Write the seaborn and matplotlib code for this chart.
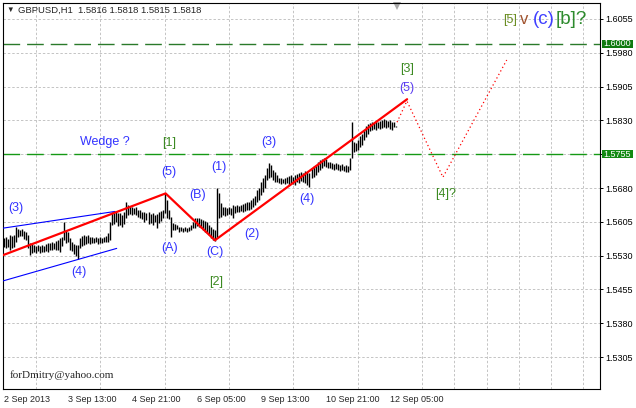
import numpy as np
import pandas as pd
import matplotlib
matplotlib.use("Agg")
import matplotlib.pyplot as plt
from matplotlib.patches import Rectangle
from matplotlib.transforms import blended_transform_factory
import seaborn as sns

# GBPUSD H1 bars (2 Sep 05:00 .. 12 Sep 08:00)
bar_high = [
    1.5569, 1.5571, 1.5567, 1.5576, 1.5573, 1.5576, 1.5593, 1.5589, 1.5587, 1.5589,
    1.5585, 1.5582, 1.5576, 1.5558, 1.5556, 1.5553, 1.5551, 1.5553, 1.5551, 1.5553,
    1.5551, 1.5556, 1.5558, 1.5558, 1.5560, 1.5558, 1.5562, 1.5565, 1.5569, 1.5571,
    1.5604, 1.5587, 1.5582, 1.5569, 1.5560, 1.5556, 1.5553, 1.5553, 1.5569, 1.5573,
    1.5576, 1.5573, 1.5576, 1.5571, 1.5571, 1.5569, 1.5571, 1.5569, 1.5571, 1.5569,
    1.5571, 1.5573, 1.5580, 1.5604, 1.5627, 1.5624, 1.5627, 1.5624, 1.5624, 1.5620,
    1.5627, 1.5649, 1.5642, 1.5640, 1.5638, 1.5636, 1.5638, 1.5631, 1.5631, 1.5627,
    1.5627, 1.5624, 1.5627, 1.5622, 1.5624, 1.5620, 1.5622, 1.5627, 1.5629, 1.5631,
    1.5669, 1.5653, 1.5631, 1.5616, 1.5602, 1.5600, 1.5598, 1.5593, 1.5593, 1.5591,
    1.5593, 1.5591, 1.5593, 1.5598, 1.5604, 1.5613, 1.5613, 1.5613, 1.5611, 1.5609,
    1.5607, 1.5604, 1.5598, 1.5593, 1.5589, 1.5587, 1.5680, 1.5669, 1.5647, 1.5638,
    1.5638, 1.5636, 1.5638, 1.5636, 1.5642, 1.5640, 1.5642, 1.5640, 1.5642, 1.5644,
    1.5647, 1.5649, 1.5649, 1.5653, 1.5658, 1.5662, 1.5676, 1.5680, 1.5693, 1.5702,
    1.5709, 1.5724, 1.5735, 1.5731, 1.5720, 1.5716, 1.5709, 1.5702, 1.5702, 1.5700,
    1.5702, 1.5704, 1.5707, 1.5709, 1.5704, 1.5709, 1.5711, 1.5713, 1.5716, 1.5713,
    1.5718, 1.5716, 1.5713, 1.5724, 1.5729, 1.5731, 1.5738, 1.5742, 1.5744, 1.5747,
    1.5744, 1.5738, 1.5738, 1.5735, 1.5733, 1.5735, 1.5733, 1.5731, 1.5733, 1.5729,
    1.5731, 1.5729, 1.5747, 1.5826, 1.5782, 1.5780, 1.5787, 1.5795, 1.5800, 1.5809,
    1.5818, 1.5822, 1.5824, 1.5826, 1.5824, 1.5829, 1.5826, 1.5829, 1.5831, 1.5833,
    1.5831, 1.5829, 1.5831, 1.5826, 1.5826, 1.5818,
]
bar_low = [
    1.5549, 1.5547, 1.5549, 1.5542, 1.5547, 1.5549, 1.5560, 1.5571, 1.5573, 1.5573,
    1.5567, 1.5565, 1.5547, 1.5531, 1.5536, 1.5538, 1.5536, 1.5540, 1.5536, 1.5538,
    1.5538, 1.5540, 1.5538, 1.5542, 1.5542, 1.5545, 1.5542, 1.5542, 1.5538, 1.5551,
    1.5565, 1.5558, 1.5560, 1.5542, 1.5540, 1.5533, 1.5529, 1.5522, 1.5547, 1.5551,
    1.5553, 1.5556, 1.5558, 1.5556, 1.5558, 1.5558, 1.5560, 1.5556, 1.5558, 1.5558,
    1.5560, 1.5560, 1.5560, 1.5565, 1.5598, 1.5600, 1.5604, 1.5596, 1.5598, 1.5593,
    1.5600, 1.5613, 1.5620, 1.5622, 1.5620, 1.5622, 1.5620, 1.5616, 1.5613, 1.5611,
    1.5604, 1.5609, 1.5600, 1.5602, 1.5598, 1.5604, 1.5591, 1.5602, 1.5607, 1.5613,
    1.5624, 1.5613, 1.5611, 1.5571, 1.5587, 1.5587, 1.5589, 1.5582, 1.5585, 1.5582,
    1.5585, 1.5582, 1.5585, 1.5587, 1.5591, 1.5591, 1.5596, 1.5593, 1.5591, 1.5587,
    1.5582, 1.5580, 1.5576, 1.5569, 1.5565, 1.5562, 1.5569, 1.5613, 1.5616, 1.5620,
    1.5618, 1.5620, 1.5622, 1.5620, 1.5613, 1.5624, 1.5627, 1.5627, 1.5629, 1.5627,
    1.5629, 1.5631, 1.5631, 1.5633, 1.5638, 1.5642, 1.5649, 1.5653, 1.5664, 1.5671,
    1.5680, 1.5698, 1.5702, 1.5704, 1.5698, 1.5693, 1.5693, 1.5691, 1.5689, 1.5691,
    1.5689, 1.5691, 1.5687, 1.5691, 1.5689, 1.5687, 1.5693, 1.5691, 1.5696, 1.5693,
    1.5691, 1.5687, 1.5682, 1.5702, 1.5704, 1.5709, 1.5716, 1.5720, 1.5724, 1.5729,
    1.5727, 1.5724, 1.5724, 1.5722, 1.5720, 1.5722, 1.5720, 1.5718, 1.5720, 1.5718,
    1.5716, 1.5716, 1.5720, 1.5747, 1.5760, 1.5762, 1.5764, 1.5771, 1.5775, 1.5787,
    1.5793, 1.5800, 1.5806, 1.5809, 1.5811, 1.5809, 1.5813, 1.5811, 1.5813, 1.5815,
    1.5813, 1.5815, 1.5811, 1.5809, 1.5815, 1.5815,
]

date_ticks = [0, 32, 64, 96, 128, 160, 192]
date_labels = ["2 Sep 2013", "3 Sep 13:00", "4 Sep 21:00", "6 Sep 05:00",
               "9 Sep 13:00", "10 Sep 21:00", "12 Sep 05:00"]
price_ticks = [1.5305, 1.5380, 1.5455, 1.5530, 1.5605, 1.5680,
               1.5755, 1.5830, 1.5905, 1.5980, 1.6055]

# wave count drawn on the chart (bar index, price)
wave_bar = [-0.3, 80.5, 105.0, 200.5]
wave_price = [1.5531, 1.5668, 1.5564, 1.5877]
forecast_bar = [195.5, 200.4, 218.3, 250.0]
forecast_price = [1.5826, 1.5873, 1.5704, 1.5964]
wedge_top_bar = [-0.15, 55.4]
wedge_top_price = [1.5591, 1.5628]
wedge_bot_bar = [-0.15, 56.2]
wedge_bot_price = [1.5474, 1.5546]
levels = [1.6000, 1.5755]

BLUE = "#3333ff"
GREEN_TXT = "#3c8a22"

sns.set_style("white")
plt.rcParams["font.family"] = ["Liberation Sans", "DejaVu Sans"]

fig = plt.figure(figsize=(6.36, 4.08), dpi=100)
ax = fig.add_axes([3 / 636, 1 - 389 / 408, 597 / 636, 386 / 408])

bars = pd.DataFrame({"bar": np.arange(len(bar_high)), "high": bar_high, "low": bar_low})
ax.vlines(bars["bar"], bars["low"], bars["high"], color="black", lw=1.0, zorder=3)

# levels
ax.axhline(levels[0], color="#2a7a2a", lw=1.0, dashes=(12, 5), zorder=2)
ax.axhline(levels[1], color="#159915", lw=1.0, dashes=(12, 5), zorder=2)

# wedge and wave lines
sns.lineplot(x=wedge_top_bar, y=wedge_top_price, color="blue", lw=0.8, ax=ax, zorder=4)
sns.lineplot(x=wedge_bot_bar, y=wedge_bot_price, color="blue", lw=0.8, ax=ax, zorder=4)
sns.lineplot(x=wave_bar, y=wave_price, sort=False, estimator=None,
             color="red", lw=1.6, ax=ax, zorder=5)
ax.plot(forecast_bar, forecast_price, color="red", lw=0.9,
        linestyle=(0, (1, 2.2)), zorder=5)

labels = [
    ("(3)", 6.2, 1.5636, BLUE), ("(4)", 37.5, 1.5494, BLUE),
    ("Wedge ?", 50.4, 1.5782, BLUE), ("[1]", 82.2, 1.5780, GREEN_TXT),
    ("(5)", 82.2, 1.5716, BLUE), ("(A)", 82.7, 1.5547, BLUE),
    ("(B)", 96.6, 1.5665, BLUE), ("(C)", 105.0, 1.5538, BLUE),
    ("[2]", 105.6, 1.5471, GREEN_TXT), ("(1)", 107.0, 1.5727, BLUE),
    ("(2)", 123.4, 1.5578, BLUE), ("(3)", 131.9, 1.5782, BLUE),
    ("(4)", 150.8, 1.5656, BLUE), ("[3]", 200.4, 1.5944, GREEN_TXT),
    ("(5)", 200.4, 1.5902, "#5a3cf0"), ("[4]?", 219.8, 1.5667, GREEN_TXT),
]
for txt, xb, yp, col in labels:
    ax.text(xb, yp, txt, color=col, fontsize=9, ha="center", va="center", zorder=6)

ax.text(251.6, 1.6053, "[5]", color="#6b8e23", fontsize=9, ha="center", va="center")
ax.text(258.6, 1.6053, "v", color="#a0522d", fontsize=12, ha="center", va="center")
ax.text(268.5, 1.6053, "(c)", color="#4040ff", fontsize=13.5, ha="center", va="center")
ax.text(281.9, 1.6053, "[b]?", color="#2e8b2e", fontsize=13.5, ha="center", va="center")

# axes, ticks and grid
ax.set_xlim(-0.3, 296.35)
ax.set_ylim(1.52340, 1.60905)
ax.set_xticks(date_ticks)
ax.set_xticklabels(date_labels, ha="left")
ax.set_xticks(range(0, 297, 16), minor=True)
ax.set_yticks(price_ticks)
# the 1.5755 level box carries that price, so its plain tick label is left blank
ax.set_yticklabels(["" if p in levels else f"{p:.4f}" for p in price_ticks])
ax.yaxis.tick_right()
ax.set_axisbelow(True)
grid_kw = dict(color="#c4c4c4", lw=0.7, linestyle=(0, (2.5, 2)))
ax.grid(which="minor", axis="x", **grid_kw)
ax.grid(which="major", axis="y", **grid_kw)
ax.tick_params(axis="y", direction="out", length=2.5, width=0.7, pad=1.5,
               labelsize=6.5, colors="black")
ax.tick_params(axis="x", which="major", direction="out", length=2.5, width=0.7,
               pad=2, labelsize=6.5)
ax.tick_params(axis="x", which="minor", length=0)
for sp in ax.spines.values():
    sp.set_visible(True)
    sp.set_color("black")
    sp.set_linewidth(0.8)

# level price boxes on the right scale
trans = blended_transform_factory(ax.transAxes, ax.transData)
for lvl, col in zip(levels, ["#0f7a0f", "#128a12"]):
    ax.add_patch(Rectangle((1.0034, lvl - 0.00092), 0.052, 0.00184, transform=trans,
                           facecolor=col, edgecolor="none", clip_on=False, zorder=7))
    ax.text(1.0294, lvl, f"{lvl:.4f}", transform=trans, color="white", fontsize=6.5,
            ha="center", va="center", clip_on=False, zorder=8)

# shift marker at the last bar
trans_top = blended_transform_factory(ax.transData, ax.transAxes)
ax.plot([195.5], [0.993], marker="v", color="#a8a8a8", ms=6, mew=0,
        transform=trans_top, clip_on=False)

fig.text(10 / 636, 1 - 10 / 408, "\u25bc", fontsize=5.5, ha="center", va="center")
fig.text(18 / 636, 1 - 10 / 408, "GBPUSD,H1  1.5816 1.5818 1.5815 1.5818",
         fontsize=6.8, va="center")
fig.text(10 / 636, 1 - 375 / 408, "forDmitry@yahoo.com", family="Liberation Serif",
         fontsize=8, va="center")

fig.savefig("out.png", dpi=100)
